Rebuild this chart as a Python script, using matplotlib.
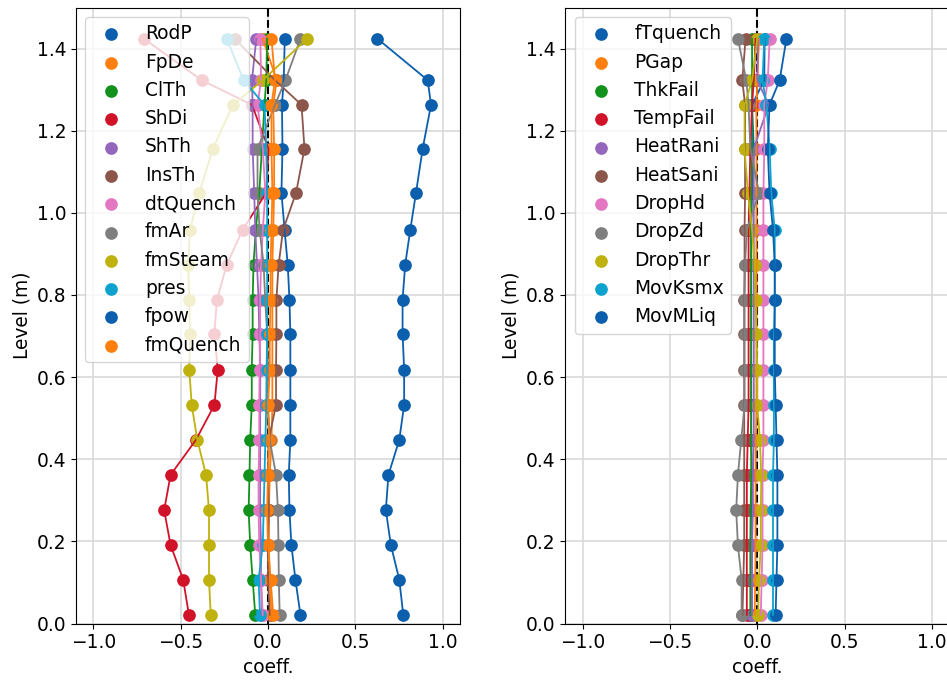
import matplotlib
matplotlib.use("Agg")
import matplotlib.pyplot as plt

levels = [0.021, 0.107, 0.191, 0.276, 0.362, 0.447, 0.532, 0.618, 0.706,
          0.788, 0.874, 0.958, 1.049, 1.156, 1.263, 1.323, 1.424]

# Left panel series (values from bottom level to top level)
left_names = ["RodP", "FpDe", "ClTh", "ShDi", "ShTh", "InsTh", "dtQuench",
              "fmAr", "fmSteam", "pres", "fpow", "fmQuench"]
RodP = [0.186, 0.157, 0.134, 0.123, 0.119, 0.128, 0.128, 0.128, 0.128,
        0.123, 0.113, 0.095, 0.077, 0.083, 0.080, 0.090, 0.096]
FpDe = [0.020, 0.010, 0.005, 0.005, 0.010, 0.020, 0.025, 0.025, 0.025,
        0.025, 0.025, 0.030, 0.035, 0.035, 0.030, 0.050, -0.030]
ClTh = [-0.073, -0.088, -0.102, -0.111, -0.106, -0.102, -0.093, -0.093, -0.088,
        -0.088, -0.083, -0.070, -0.050, -0.035, -0.020, -0.010, -0.005]
ShDi = [-0.453, -0.486, -0.558, -0.595, -0.558, -0.413, -0.307, -0.288, -0.307,
        -0.293, -0.236, -0.146, -0.010, 0.003, -0.092, -0.380, -0.711]
ShTh = [-0.035, -0.040, -0.040, -0.045, -0.045, -0.045, -0.045, -0.044, -0.050,
        -0.054, -0.063, -0.073, -0.079, -0.088, -0.088, -0.092, -0.067]
InsTh = [0.010, 0.000, 0.000, 0.005, 0.000, 0.004, 0.046, 0.046, 0.048,
         0.048, 0.061, 0.086, 0.161, 0.209, 0.192, 0.040, -0.190]
dtQuench = [-0.030, -0.040, -0.050, -0.054, -0.054, -0.050, -0.050, -0.048, -0.045,
            -0.045, -0.040, -0.030, -0.015, -0.030, -0.060, -0.040, -0.044]
fmAr = [0.067, 0.062, 0.060, 0.057, 0.046, 0.010, 0.000, 0.000, -0.005,
        -0.016, -0.025, -0.048, -0.060, -0.060, 0.040, 0.100, 0.186]
fmSteam = [-0.328, -0.338, -0.338, -0.338, -0.355, -0.405, -0.437, -0.451, -0.447,
           -0.451, -0.457, -0.447, -0.393, -0.316, -0.201, -0.030, 0.224]
pres = [-0.046, -0.054, -0.030, -0.025, -0.020, -0.015, -0.010, -0.008, -0.005,
        -0.005, -0.005, -0.005, -0.005, -0.010, -0.020, -0.140, -0.236]
fpow = [0.775, 0.752, 0.704, 0.675, 0.690, 0.752, 0.780, 0.780, 0.771,
        0.771, 0.786, 0.815, 0.848, 0.886, 0.934, 0.915, 0.627]
fmQuench = [0.030, 0.015, 0.000, -0.005, 0.000, 0.005, 0.000, 0.010, 0.010,
            0.015, 0.015, 0.020, 0.025, 0.020, 0.020, 0.040, 0.020]
left_values = [RodP, FpDe, ClTh, ShDi, ShTh, InsTh, dtQuench, fmAr, fmSteam,
               pres, fpow, fmQuench]

# Right panel series
right_names = ["fTquench", "PGap", "ThkFail", "TempFail", "HeatRani", "HeatSani",
               "DropHd", "DropZd", "DropThr", "MovKsmx", "MovMLiq"]
fTquench = [-0.035, -0.035, -0.030, -0.030, -0.030, -0.035, -0.035, -0.035, -0.035,
            -0.035, -0.035, -0.035, -0.030, -0.020, -0.030, 0.040, 0.042]
PGap = [-0.015, -0.012, -0.010, -0.010, -0.010, -0.008, -0.005, -0.005, -0.005,
        -0.005, -0.005, -0.005, -0.005, -0.005, -0.005, 0.000, 0.010]
ThkFail = [-0.040, -0.040, -0.040, -0.038, -0.035, -0.035, -0.035, -0.035, -0.035,
           -0.035, -0.035, -0.035, -0.035, -0.030, -0.030, -0.030, -0.030]
TempFail = [-0.060, -0.060, -0.060, -0.060, -0.060, -0.055, -0.050, -0.050, -0.050,
            -0.050, -0.050, -0.050, -0.045, -0.040, -0.030, -0.020, -0.010]
HeatRani = [-0.030, -0.030, -0.030, -0.025, -0.025, -0.020, -0.020, -0.020, -0.020,
            -0.020, -0.020, -0.020, -0.020, -0.020, 0.065, 0.000, 0.004]
HeatSani = [-0.085, -0.080, -0.075, -0.075, -0.075, -0.075, -0.075, -0.075, -0.075,
            -0.075, -0.073, -0.073, -0.070, -0.070, -0.070, -0.086, -0.067]
DropHd = [0.020, 0.025, 0.030, 0.030, 0.030, 0.035, 0.035, 0.035, 0.035,
          0.035, 0.035, 0.035, 0.035, 0.040, 0.040, 0.060, 0.071]
DropZd = [-0.090, -0.090, -0.111, -0.121, -0.111, -0.092, -0.073, -0.073, -0.073,
          -0.073, -0.070, -0.060, 0.010, -0.040, -0.050, -0.063, -0.111]
DropThr = [0.005, 0.010, 0.020, 0.020, 0.023, 0.015, 0.000, 0.000, -0.005,
           -0.010, -0.015, -0.030, -0.054, -0.073, -0.073, -0.030, 0.000]
MovKsmx = [0.090, 0.090, 0.090, 0.090, 0.090, 0.095, 0.095, 0.095, 0.095,
           0.100, 0.100, 0.100, 0.080, 0.071, 0.052, 0.030, 0.040]
MovMLiq = [0.105, 0.110, 0.115, 0.115, 0.115, 0.110, 0.105, 0.100, 0.100,
           0.100, 0.100, 0.090, 0.070, 0.060, 0.070, 0.128, 0.167]
right_values = [fTquench, PGap, ThkFail, TempFail, HeatRani, HeatSani, DropHd,
                DropZd, DropThr, MovKsmx, MovMLiq]

xticks = [-1.0, -0.5, 0.0, 0.5, 1.0]
yticks = [0.0, 0.2, 0.4, 0.6, 0.8, 1.0, 1.2, 1.4]

colors = ["#0b5fad", "#ff7f0e", "#12921c", "#d1132a", "#9467bd", "#8c564b",
          "#e377c2", "#7f7f7f", "#bfb20f", "#0ea2cf"]

FS = 13.4
fig = plt.figure(figsize=(9.47, 6.82), dpi=100)
ax1 = fig.add_axes([76 / 947, 58.5 / 682, 384 / 947, 616 / 682])
ax2 = fig.add_axes([565.3 / 947, 58.5 / 682, 384 / 947, 616 / 682])

for ax, names, values in [(ax1, left_names, left_values),
                          (ax2, right_names, right_values)]:
    ax.set_axisbelow(True)
    ax.grid(True, color="#d9d9d9", linewidth=1.2)
    ax.axvline(0, color="black", linestyle="--", linewidth=1.5, zorder=0.8)
    for i, (name, vals) in enumerate(zip(names, values)):
        c = colors[i % len(colors)]
        ax.scatter(vals, levels, s=66, color=c, label=name, zorder=1)
        ax.plot(vals, levels, color=c, linewidth=1.3, zorder=2)
    ax.set_xlim(-1.1, 1.1)
    ax.set_ylim(0, 1.5)
    ax.set_xticks(xticks)
    ax.set_yticks(yticks)
    ax.tick_params(labelsize=FS)
    ax.set_xlabel("coeff.", fontsize=FS)
    ax.set_ylabel("Level (m)", fontsize=FS)
    ax.legend(loc="upper left", fontsize=FS, framealpha=0.8)

fig.savefig("out.png", dpi=100)
